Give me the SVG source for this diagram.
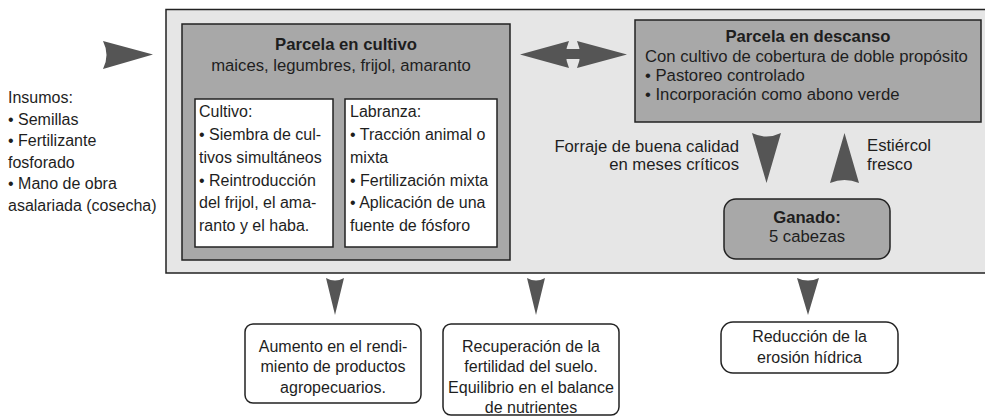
<svg xmlns="http://www.w3.org/2000/svg" width="985" height="417" viewBox="0 0 985 417">
<style>
text{font-family:"Liberation Sans",Arial,sans-serif;font-size:16.7px;fill:#1e1e1e}
.b{font-weight:bold}
.m{text-anchor:middle}
.r{text-anchor:end}
.s{font-size:16px}
.panel{fill:#e6e6e6;stroke:#222;stroke-width:1.5}
.gray{fill:#a8a8a8;stroke:#222;stroke-width:1.5}
.white{fill:#fff;stroke:#222;stroke-width:1.5}
.arr{fill:#555;stroke:none}
</style>
<rect class="panel" x="166" y="9.5" width="830" height="263.5"/>
<g id="insumos">
<text class="s" x="8" y="103">Insumos:</text>
<text class="s" x="8" y="124.5">• Semillas</text>
<text class="s" x="8" y="146">• Fertilizante</text>
<text class="s" x="8" y="167.5">fosforado</text>
<text class="s" x="8" y="189">• Mano de obra</text>
<text class="s" x="8" y="210.5">asalariada (cosecha)</text>
</g>
<g id="parcela-cultivo">
<rect class="gray" x="182" y="24" width="328" height="236"/>
<text class="b m" x="346" y="50">Parcela en cultivo</text>
<text class="m" x="341" y="71">maices, legumbres, frijol, amaranto</text>
</g>
<g id="cultivo">
<rect class="white" x="195" y="99" width="138" height="148"/>
<text class="s" x="199" y="117">Cultivo:</text>
<text class="s" x="199" y="140">• Siembra de cul-</text>
<text class="s" x="199" y="163">tivos simultáneos</text>
<text class="s" x="199" y="186">• Reintroducción</text>
<text class="s" x="199" y="208">del frijol, el ama-</text>
<text class="s" x="199" y="231">ranto y el haba.</text>
</g>
<g id="labranza">
<rect class="white" x="345" y="99" width="152" height="148"/>
<text class="s" x="350" y="117">Labranza:</text>
<text class="s" x="350" y="140">• Tracción animal o</text>
<text class="s" x="350" y="163">mixta</text>
<text class="s" x="350" y="186">• Fertilización mixta</text>
<text class="s" x="350" y="208">• Aplicación de una</text>
<text class="s" x="350" y="231">fuente de fósforo</text>
</g>
<g id="parcela-descanso">
<rect class="gray" x="635" y="20" width="346" height="102"/>
<text class="b m" x="808" y="42">Parcela en descanso</text>
<text x="645" y="62">Con cultivo de cobertura de doble propósito</text>
<text x="645" y="81">• Pastoreo controlado</text>
<text x="645" y="100">• Incorporación como abono verde</text>
</g>
<g id="ganado">
<rect class="gray" x="724" y="199" width="166" height="60" rx="12"/>
<text class="b m" x="807" y="223">Ganado:</text>
<text class="m" x="807" y="242">5 cabezas</text>
</g>
<g id="forraje-label">
<text class="r" x="739" y="152">Forraje de buena calidad</text>
<text class="r" x="739" y="170">en meses críticos</text>
</g>
<g id="estiercol-label">
<text x="867" y="151">Estiércol</text>
<text x="867" y="170">fresco</text>
</g>
<g id="resultado-1">
<rect class="white" x="245" y="324" width="176" height="79" rx="8"/>
<text class="m s" x="333" y="352">Aumento en el rendi-</text>
<text class="m s" x="333" y="372">miento de productos</text>
<text class="m s" x="333" y="393">agropecuarios.</text>
</g>
<g id="resultado-2">
<rect class="white" x="443" y="324" width="176" height="91" rx="8"/>
<text class="m s" x="531" y="352">Recuperación de la</text>
<text class="m s" x="531" y="372">fertilidad del suelo.</text>
<text class="m s" x="531" y="393" textLength="166" lengthAdjust="spacingAndGlyphs">Equilibrio en el balance</text>
<text class="m s" x="531" y="413">de nutrientes</text>
</g>
<g id="resultado-3">
<rect class="white" x="721" y="322" width="177" height="51" rx="12"/>
<text class="m s" x="809.5" y="342">Reducción de la</text>
<text class="m s" x="809.5" y="363">erosión hídrica</text>
</g>
<g id="connectors">
<path class="arr" d="M103,41 Q110,55 103,69 L153,54.5 Z"/>
<path class="arr" d="M520,54.5 L569,41 Q563,54.5 569,68 Z"/>
<rect class="arr" x="565" y="49" width="15" height="10"/>
<path class="arr" d="M627,54.5 L577,41 Q583,54.5 577,68 Z"/>
<path class="arr" d="M752,133 Q766.5,140 781,133 L766.5,183 Z"/>
<path class="arr" d="M844.5,133 L859,183 Q844.5,177 830,183 Z"/>
<path class="arr" d="M326,278 Q335,283 344,278 L335,315 Z"/>
<path class="arr" d="M527,278 Q536,283 545,278 L536,315 Z"/>
<path class="arr" d="M797,278 Q808,283 819,278 L808,315 Z"/>
</g>
</svg>
